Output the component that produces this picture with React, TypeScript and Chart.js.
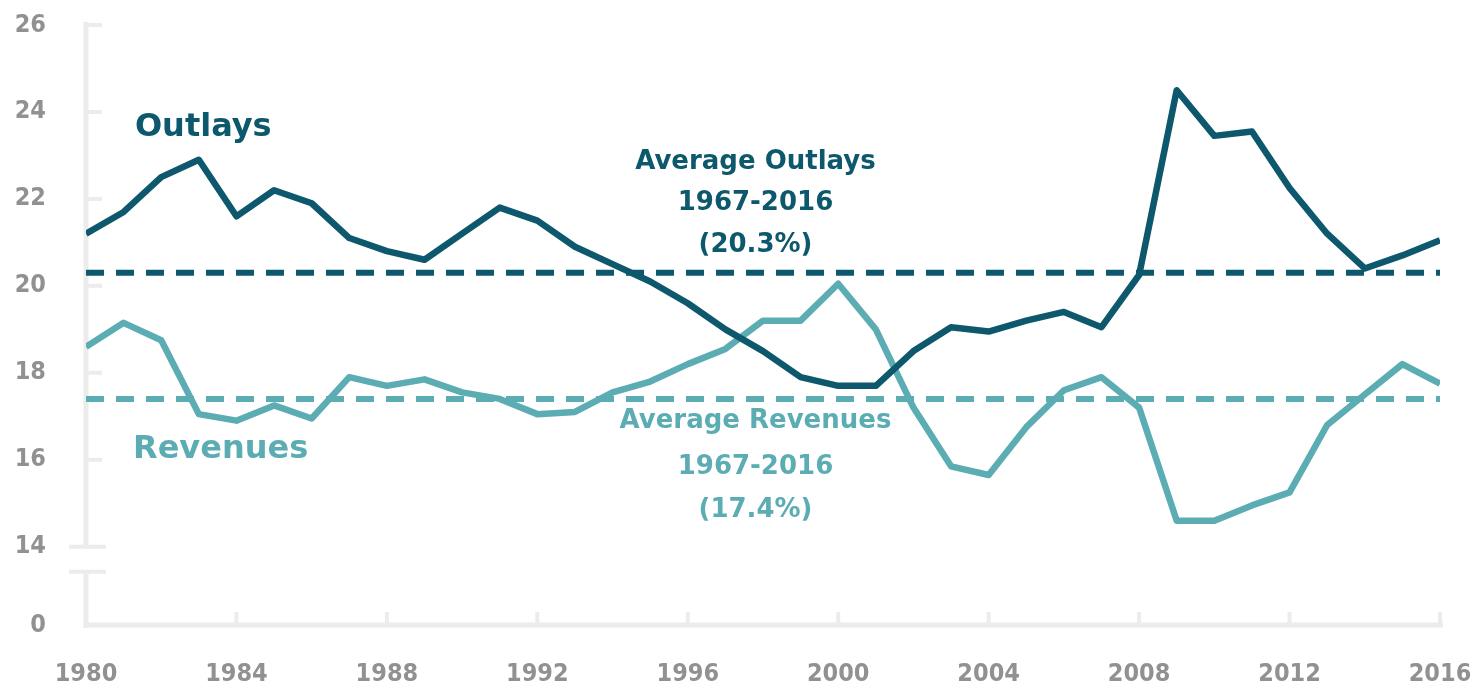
import React, { useEffect, useRef } from "react";
import { Chart, registerables } from "chart.js";

Chart.register(...registerables);

const years = [
  1980, 1981, 1982, 1983, 1984, 1985, 1986, 1987, 1988, 1989,
  1990, 1991, 1992, 1993, 1994, 1995, 1996, 1997, 1998, 1999,
  2000, 2001, 2002, 2003, 2004, 2005, 2006, 2007, 2008, 2009,
  2010, 2011, 2012, 2013, 2014, 2015, 2016,
];
const outlays = [
  21.2, 21.7, 22.5, 22.9, 21.6, 22.2, 21.9, 21.1, 20.8, 20.6,
  21.2, 21.8, 21.5, 20.9, 20.5, 20.1, 19.6, 19.0, 18.5, 17.9,
  17.7, 17.7, 18.5, 19.05, 18.95, 19.2, 19.4, 19.05, 20.25, 24.5,
  23.45, 23.55, 22.25, 21.2, 20.4, 20.7, 21.05,
];
const revenues = [
  18.6, 19.15, 18.75, 17.05, 16.9, 17.25, 16.95, 17.9, 17.7, 17.85,
  17.55, 17.4, 17.05, 17.1, 17.55, 17.8, 18.2, 18.55, 19.2, 19.2,
  20.05, 19.0, 17.2, 15.85, 15.65, 16.75, 17.6, 17.9, 17.2, 14.6,
  14.6, 14.95, 15.25, 16.8, 17.5, 18.2, 17.75,
];
const avgOutlays = 20.3;
const avgRevenues = 17.4;
const xTickYears = [1980, 1984, 1988, 1992, 1996, 2000, 2004, 2008, 2012, 2016];
const yTickValues = [14, 16, 18, 20, 22, 24, 26];
const yAxisBottom = 12.2; // bottom of the broken axis
const yBottomLabel = "0";

const outlaysLabel = "Outlays";
const revenuesLabel = "Revenues";
const avgOutlaysLines = ["Average Outlays", "1967-2016", "(20.3%)"];
const avgRevenuesLines = ["Average Revenues", "1967-2016", "(17.4%)"];

const OUTLAY_COLOR = "#0d586c";
const REVENUE_COLOR = "#5badb3";
const AXIS_COLOR = "#ececec";
const TICK_LABEL_COLOR = "#919191";

const axisPlugin = {
  id: "customAxes",
  beforeDatasetsDraw(chart: any) {
    const { ctx, chartArea, scales } = chart;
    const xs = scales.x;
    const ys = scales.y;
    const left = chartArea.left;
    const bottom = chartArea.bottom;
    const y14 = ys.getPixelForValue(yTickValues[0]);
    const breakLow = y14 + 25;
    ctx.save();
    ctx.strokeStyle = AXIS_COLOR;
    ctx.lineCap = "butt";
    // y axis (broken)
    ctx.lineWidth = 5;
    ctx.beginPath();
    ctx.moveTo(left, ys.getPixelForValue(yTickValues[yTickValues.length - 1]) - 3);
    ctx.lineTo(left, y14);
    ctx.moveTo(left, breakLow);
    ctx.lineTo(left, bottom + 2.5);
    ctx.stroke();
    // x axis
    ctx.beginPath();
    ctx.moveTo(left - 2.5, bottom);
    ctx.lineTo(xs.getPixelForValue(xTickYears[xTickYears.length - 1]) + 3, bottom);
    ctx.stroke();
    // y ticks
    ctx.lineWidth = 4;
    ctx.beginPath();
    yTickValues.slice(1).forEach((v) => {
      const p = ys.getPixelForValue(v);
      ctx.moveTo(left, p);
      ctx.lineTo(left + 16, p);
    });
    // break marks
    ctx.moveTo(left - 17, y14);
    ctx.lineTo(left + 20, y14);
    ctx.moveTo(left - 17, breakLow);
    ctx.lineTo(left + 20, breakLow);
    ctx.stroke();
    // x ticks
    ctx.lineWidth = 4;
    ctx.beginPath();
    xTickYears.slice(1).forEach((v) => {
      const p = xs.getPixelForValue(v);
      ctx.moveTo(p, bottom);
      ctx.lineTo(p, bottom - 13);
    });
    ctx.stroke();
    ctx.restore();
  },
};

const labelPlugin = {
  id: "customLabels",
  afterDatasetsDraw(chart: any) {
    const { ctx, scales } = chart;
    const xs = scales.x;
    const ys = scales.y;
    ctx.save();
    ctx.textBaseline = "middle";
    ctx.font = "bold 32px 'DejaVu Sans'";
    ctx.textAlign = "left";
    ctx.fillStyle = OUTLAY_COLOR;
    ctx.fillText(outlaysLabel, xs.getPixelForValue(1981.3), ys.getPixelForValue(23.63));
    ctx.fillStyle = REVENUE_COLOR;
    ctx.fillText(revenuesLabel, xs.getPixelForValue(1981.25), ys.getPixelForValue(16.23));

    ctx.font = "bold 26px 'DejaVu Sans'";
    ctx.textAlign = "center";
    const cx = xs.getPixelForValue(1997.8);
    const outY = [22.85, 21.9, 20.94];
    const revY = [16.89, 15.83, 14.85];
    ctx.fillStyle = OUTLAY_COLOR;
    avgOutlaysLines.forEach((t, i) => ctx.fillText(t, cx, ys.getPixelForValue(outY[i])));
    ctx.fillStyle = REVENUE_COLOR;
    avgRevenuesLines.forEach((t, i) => ctx.fillText(t, cx, ys.getPixelForValue(revY[i])));
    ctx.restore();
  },
};

const zeroPadding = (scale: any) => {
  scale.paddingTop = 0;
  scale.paddingBottom = 0;
  scale.paddingLeft = 0;
  scale.paddingRight = 0;
};

export default function App() {
  const canvasRef = useRef<HTMLCanvasElement | null>(null);

  useEffect(() => {
    if (!canvasRef.current) return;
    const toPoints = (vals: number[]) => years.map((yr, i) => ({ x: yr, y: vals[i] }));
    const first = years[0];
    const last = years[years.length - 1];
    const chart = new Chart(canvasRef.current, {
      type: "line",
      data: {
        datasets: [
          {
            label: "Average Outlays",
            data: [{ x: first, y: avgOutlays }, { x: last, y: avgOutlays }],
            borderColor: OUTLAY_COLOR,
            borderWidth: 6,
            borderDash: [18, 12],
            borderCapStyle: "butt",
            pointRadius: 0,
            order: 3,
          },
          {
            label: "Average Revenues",
            data: [{ x: first, y: avgRevenues }, { x: last, y: avgRevenues }],
            borderColor: REVENUE_COLOR,
            borderWidth: 6,
            borderDash: [18, 12],
            borderCapStyle: "butt",
            pointRadius: 0,
            order: 4,
          },
          {
            label: "Revenues",
            data: toPoints(revenues),
            borderColor: REVENUE_COLOR,
            borderWidth: 6.5,
            borderJoinStyle: "round",
            pointRadius: 0,
            tension: 0,
            order: 2,
          },
          {
            label: "Outlays",
            data: toPoints(outlays),
            borderColor: OUTLAY_COLOR,
            borderWidth: 6.5,
            borderJoinStyle: "round",
            pointRadius: 0,
            tension: 0,
            order: 1,
          },
        ],
      },
      options: {
        animation: false,
        responsive: true,
        maintainAspectRatio: false,
        layout: { padding: { top: 25, right: 34, left: 0, bottom: 0 } },
        plugins: {
          legend: { display: false },
          tooltip: { enabled: false },
        },
        scales: {
          x: {
            type: "linear",
            min: first,
            max: last,
            grid: { display: false, drawTicks: false },
            border: { display: false },
            afterBuildTicks: (scale: any) => {
              scale.ticks = xTickYears.map((v) => ({ value: v }));
            },
            afterFit: (scale: any) => {
              scale.height = 67;
              zeroPadding(scale);
            },
            ticks: {
              padding: 34,
              autoSkip: false,
              maxRotation: 0,
              color: TICK_LABEL_COLOR,
              font: { family: "'DejaVu Sans Condensed', 'DejaVu Sans'", weight: "bold", size: 25 },
              callback: (v: any) => String(v),
            },
          },
          y: {
            type: "linear",
            min: yAxisBottom,
            max: yTickValues[yTickValues.length - 1],
            grid: { display: false, drawTicks: false },
            border: { display: false },
            afterBuildTicks: (scale: any) => {
              scale.ticks = [yAxisBottom, ...yTickValues].map((v) => ({ value: v }));
            },
            afterFit: (scale: any) => {
              scale.width = 86;
              zeroPadding(scale);
            },
            ticks: {
              padding: 40,
              color: TICK_LABEL_COLOR,
              font: { family: "'DejaVu Sans Condensed', 'DejaVu Sans'", weight: "bold", size: 25 },
              callback: (v: any) => (v === yAxisBottom ? yBottomLabel : String(v)),
            },
          },
        },
      },
      plugins: [axisPlugin, labelPlugin],
    });
    return () => chart.destroy();
  }, []);

  return (
    <div style={{ position: "absolute", left: 0, top: 0, width: 1474, height: 692, background: "#ffffff" }}>
      <canvas ref={canvasRef} />
    </div>
  );
}
